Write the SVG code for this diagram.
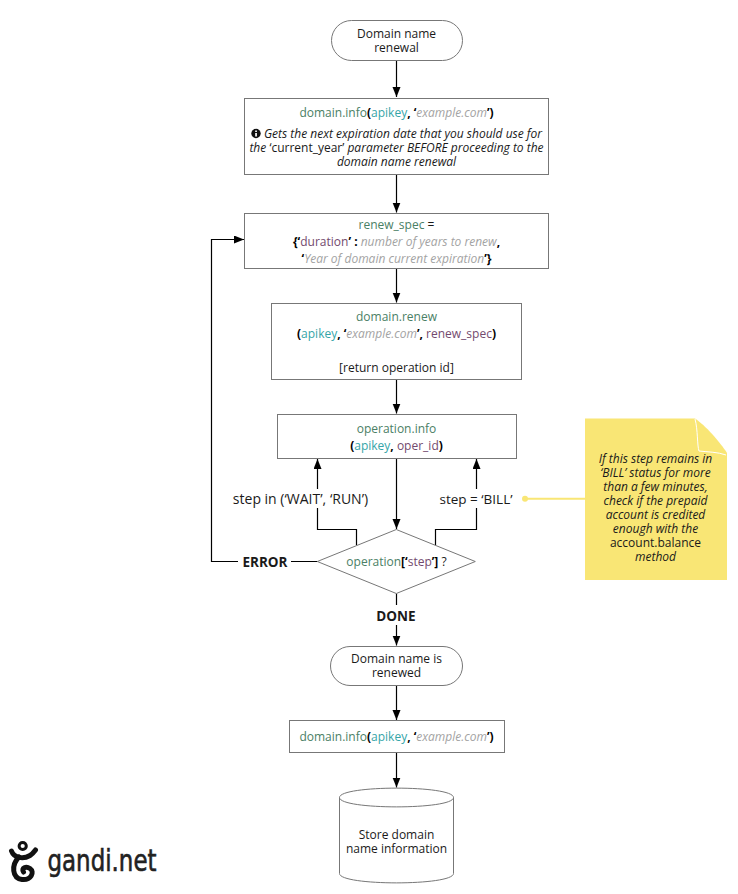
<svg xmlns="http://www.w3.org/2000/svg" width="738" height="894" viewBox="0 0 738 894">
<style>
text{font-family:"Open Sans","Noto Sans",sans-serif;font-size:12px;fill:#1a1a1a;text-anchor:middle}
.n{fill:#fff;stroke:#777;stroke-width:1}
.c{fill:none;stroke:#000;stroke-width:1.2}
.g{fill:#4a8065}.t{fill:#35a5a8}.p{fill:#734a6e}.y{fill:#a3a3a3;font-style:italic}.k{fill:#000;font-weight:700}
.i{font-style:italic}
.l{font-size:14px}
.b{font-size:13.5px;font-weight:700}
</style>
<defs>
<marker id="a" markerUnits="userSpaceOnUse" markerWidth="11" markerHeight="9" refX="10" refY="4" orient="auto"><path d="M0 0L10 4L0 8Z" fill="#000"/></marker>
</defs>
<rect width="738" height="894" fill="#fff"/>
<g id="connectors">
<path class="c" d="M396.500 60V97" marker-end="url(#a)"/>
<path class="c" d="M396.500 174.500V212.500" marker-end="url(#a)"/>
<path class="c" d="M396.500 268.500V302.500" marker-end="url(#a)"/>
<path class="c" d="M396.500 379.500V413.500" marker-end="url(#a)"/>
<path class="c" d="M396.500 458.500V529" marker-end="url(#a)"/>
<path class="c" d="M356.500 545V529.500H317.500V508M317.500 489V459" marker-end="url(#a)"/>
<path class="c" d="M435.500 545V529.500H476.500V508M476.500 489V459" marker-end="url(#a)"/>
<path class="c" d="M317.500 561.500H291M238 561.500H211.500V239.500H244" marker-end="url(#a)"/>
<path class="c" d="M396.500 593.500V605M396.500 625V645.500" marker-end="url(#a)"/>
<path class="c" d="M396.500 685.500V720" marker-end="url(#a)"/>
<path class="c" d="M396.500 752.500V787.500" marker-end="url(#a)"/>
<path d="M525 498.700H585" fill="none" stroke="#f9e675" stroke-width="2"/>
<circle cx="525" cy="498.700" r="3" fill="#f9e675"/>
</g>
<g id="start"><rect class="n" x="331.500" y="20.500" width="131" height="40" rx="20"/><text x="396.500" y="37.500">Domain name<tspan x="396.500" dy="14">renewal</tspan></text></g>
<g id="domain-info-1"><rect class="n" x="244.500" y="98.500" width="304" height="76"/>
<text x="396.500" y="116.500"><tspan class="g">domain.info</tspan><tspan class="k">(</tspan><tspan class="t">apikey</tspan><tspan class="k">, ‘</tspan><tspan class="y">example.com</tspan><tspan class="k">’)</tspan></text>
<circle cx="256" cy="133.500" r="4.700" fill="#111"/><rect x="255.200" y="133" width="1.700" height="3.500" fill="#fff"/><rect x="255.200" y="130.500" width="1.700" height="1.500" fill="#fff"/>
<text x="403" y="138" class="i">Gets the next expiration date that you should use for<tspan x="396.500" dy="14">the </tspan><tspan font-style="normal">‘current_year’</tspan><tspan> parameter BEFORE proceeding to the</tspan><tspan x="396.500" dy="14">domain name renewal</tspan></text></g>
<g id="renew-spec"><rect class="n" x="244.500" y="213.500" width="304" height="55"/>
<text x="396.500" y="228.500"><tspan class="g">renew_spec</tspan> =<tspan x="396.500" dy="17" class="k">{‘</tspan><tspan class="p">duration</tspan><tspan class="k">’ : </tspan><tspan class="y">number of years to renew</tspan><tspan class="k">,</tspan><tspan x="396.500" dy="17" class="k">‘</tspan><tspan class="y">Year of domain current expiration</tspan><tspan class="k">’}</tspan></text></g>
<g id="domain-renew"><rect class="n" x="271.500" y="303.500" width="250" height="76"/>
<text x="396.500" y="320.500"><tspan class="g">domain.renew</tspan><tspan x="396.500" dy="17" class="k">(</tspan><tspan class="t">apikey</tspan><tspan class="k">, ‘</tspan><tspan class="y">example.com</tspan><tspan class="k">’, </tspan><tspan class="p">renew_spec</tspan><tspan class="k">)</tspan><tspan x="396.500" dy="34">[return operation id]</tspan></text></g>
<g id="operation-info"><rect class="n" x="277.500" y="414.500" width="239" height="44"/>
<text x="396.500" y="432.500"><tspan class="g">operation.info</tspan><tspan x="396.500" dy="17" class="k">(</tspan><tspan class="t">apikey</tspan><tspan class="k">, </tspan><tspan class="p">oper_id</tspan><tspan class="k">)</tspan></text></g>
<g id="decision"><path class="n" d="M396.300 529.500L475.300 561.500L396.300 593.500L317.300 561.500Z"/>
<text x="396.500" y="565.500"><tspan class="g">operation</tspan><tspan class="k">[‘</tspan><tspan class="p">step</tspan><tspan class="k">’]</tspan> ?</text></g>
<g id="labels">
<text x="300.500" y="503.500" class="l">step in (‘WAIT’, ‘RUN’)</text>
<text x="476" y="503.500" class="l" style="font-size:13.500px">step = ‘BILL’</text>
<text x="265" y="567" class="b">ERROR</text>
<text x="396" y="621" class="b">DONE</text></g>
<g id="renewed"><rect class="n" x="330.500" y="646.500" width="132" height="39" rx="19.500"/><text x="396.500" y="663">Domain name is<tspan x="396.500" dy="14">renewed</tspan></text></g>
<g id="domain-info-2"><rect class="n" x="289.500" y="720.500" width="215" height="32"/>
<text x="396.500" y="741"><tspan class="g">domain.info</tspan><tspan class="k">(</tspan><tspan class="t">apikey</tspan><tspan class="k">, ‘</tspan><tspan class="y">example.com</tspan><tspan class="k">’)</tspan></text></g>
<g id="store"><path class="n" d="M339.500 797.500C339.500 785 453.500 785 453.500 797.500V873.500C453.500 886 339.500 886 339.500 873.500Z"/><path class="n" style="fill:none" d="M339.500 797.500C339.500 810 453.500 810 453.500 797.500"/>
<text x="396.500" y="838.500">Store domain<tspan x="396.500" dy="14">name information</tspan></text></g>
<g id="note"><path d="M585 418.500H695C705 425 720 442 727 453V580H585Z" fill="#f9e675"/><path d="M695 419C698 430 697 445 699 451C708 452 718 452 726 455" fill="none" stroke="#fff" stroke-width="1"/>
<text x="655.500" y="463" class="i">If this step remains in<tspan x="655.500" dy="14">‘BILL’ status for more</tspan><tspan x="655.500" dy="14">than a few minutes,</tspan><tspan x="655.500" dy="14">check if the prepaid</tspan><tspan x="655.500" dy="14">account is credited</tspan><tspan x="655.500" dy="14">enough with the</tspan><tspan x="655.500" dy="14" font-style="normal">account.balance</tspan><tspan x="655.500" dy="14">method</tspan></text></g>
<g id="logo">
<circle cx="22.700" cy="846" r="3.600" fill="none" stroke="#111" stroke-width="3"/>
<path d="M11.500 851C14 858 23 859.500 30 855.500C32.500 854 34 852 35.500 850" fill="none" stroke="#111" stroke-width="5" stroke-linecap="round"/>
<path d="M19 857C11 865 12 878 22 879.500C31 880.500 35 872 30 868.500C26 866 21 868 23.500 872" fill="none" stroke="#111" stroke-width="5" stroke-linecap="round"/>
<text x="47.500" y="871" style="text-anchor:start;font-family:'Liberation Sans Narrow','DejaVu Sans Condensed','Open Sans',sans-serif;font-size:31px;fill:#222;stroke:#222;stroke-width:.6" textLength="109" lengthAdjust="spacingAndGlyphs">gandi.net</text>
</g>
</svg>
